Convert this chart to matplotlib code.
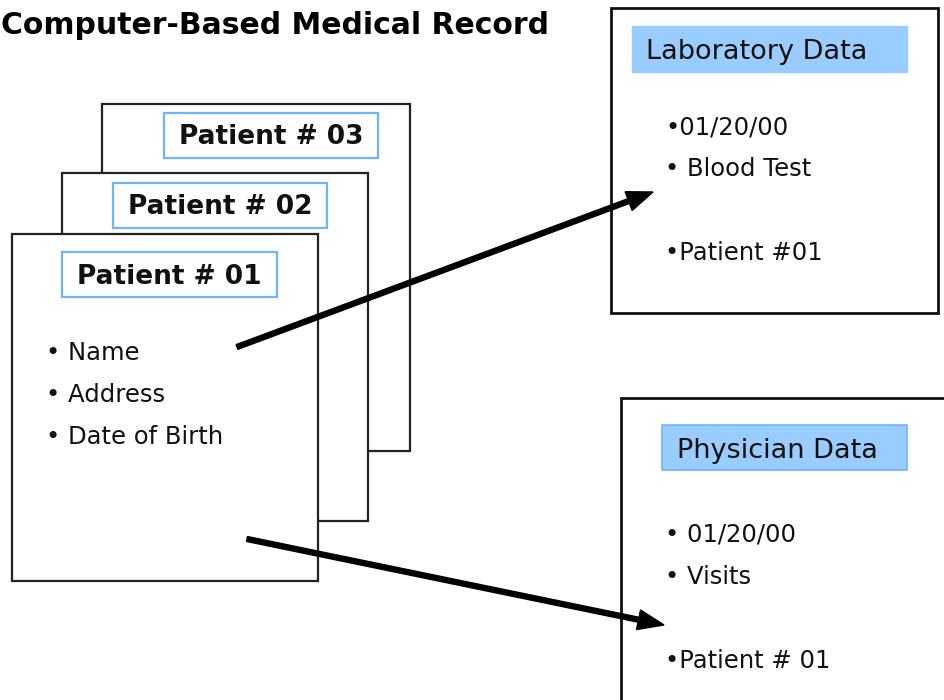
"""
Computer-Based Medical Record diagram
"""
import matplotlib.pyplot as plt
from matplotlib.patches import Rectangle

plt.rcParams['font.family'] = ['DejaVu Sans']

# texts
title = 'Computer-Based Medical Record'
patients = ['Patient # 03', 'Patient # 02', 'Patient # 01']
patient_items = ['• Name', '• Address', '• Date of Birth']
lab_title = 'Laboratory Data'
lab_items = ['•01/20/00', '• Blood Test', '•Patient #01']
phys_title = 'Physician Data'
phys_items = ['• 01/20/00', '• Visits', '•Patient # 01']

# geometry in pixels (x0, y0, x1, y1), y grows downward
card_boxes = [(102, 104, 410, 451), (62, 173, 368, 521), (12, 234, 318, 581)]
label_boxes = [(164, 113, 378, 158), (113, 183, 327, 228), (62, 252, 277, 297)]
item_y = [350, 393, 435]
lab_box = (611, 8, 938, 313)
lab_head = (632, 26, 907, 72)
lab_y = [125, 167, 251]
phys_box = (621, 398, 960, 720)
phys_head = (662, 425, 907, 470)
phys_y = [532, 575, 659]
arrows = [((237, 347), (653, 192)), ((247, 539), (664, 625))]

fig = plt.figure(figsize=(9.44, 7), dpi=100)
ax = fig.add_axes([0, 0, 1, 1])
ax.set_xlim(0, 944)
ax.set_ylim(700, 0)
ax.axis('off')


def rect(b, **kw):
    ax.add_patch(Rectangle((b[0], b[1]), b[2] - b[0], b[3] - b[1], **kw))


ax.text(1, 23, title, fontsize=21.5, fontweight='bold', ha='left',
        va='center_baseline')

# stacked patient cards
for card, lab, name in zip(card_boxes, label_boxes, patients):
    rect(card, facecolor='white', edgecolor='#222222', lw=1.6)
    rect(lab, facecolor='white', edgecolor='#6fb3ff', lw=1.6)
    ax.text((lab[0] + lab[2]) / 2, (lab[1] + lab[3]) / 2 - 1, name,
            fontsize=19, fontweight='bold', ha='center', va='center_baseline',
            color='#111111')

for y, t in zip(item_y, patient_items):
    ax.text(46, y, t, fontsize=17.5, ha='left', va='center_baseline', color='#111111')

# laboratory box
rect(lab_box, facecolor='white', edgecolor='#111111', lw=2)
rect(lab_head, facecolor='#99ccff', edgecolor='#99ccff', lw=1)
ax.text(646, (lab_head[1] + lab_head[3]) / 2, lab_title, fontsize=19.5,
        ha='left', va='center_baseline', color='#111111')
for y, t in zip(lab_y, lab_items):
    ax.text(665, y, t, fontsize=17.5, ha='left', va='center_baseline', color='#111111')

# physician box
rect(phys_box, facecolor='white', edgecolor='#111111', lw=2)
rect(phys_head, facecolor='#99ccff', edgecolor='#6fb3ff', lw=1.2)
ax.text(677, (phys_head[1] + phys_head[3]) / 2, phys_title, fontsize=19.5,
        ha='left', va='center_baseline', color='#111111')
for y, t in zip(phys_y, phys_items):
    ax.text(665, y, t, fontsize=17.5, ha='left', va='center_baseline', color='#111111')

# arrows
for (x0, y0), (x1, y1) in arrows:
    ax.arrow(x0, y0, x1 - x0, y1 - y0, width=5, head_width=20, head_length=26,
             length_includes_head=True, color='black', zorder=5)

plt.savefig('out.png', dpi=100)
